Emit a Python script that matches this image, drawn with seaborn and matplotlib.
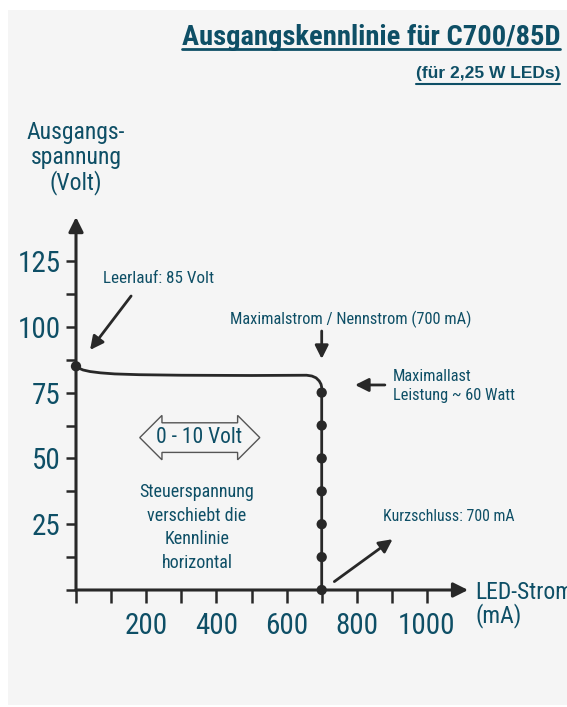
import numpy as np
import pandas as pd
import matplotlib.pyplot as plt
import seaborn as sns
from matplotlib.patches import Rectangle
from matplotlib.lines import Line2D

# Ausgangskennlinie C700/85D (Strom in mA, Spannung in V)
strom = [0, 8, 20, 40, 70, 110, 180, 300, 500, 657, 672, 684, 693, 698, 700, 700]
spannung = [85, 84.3, 83.6, 83.0, 82.5, 82.1, 81.8, 81.6, 81.5, 81.6, 81.3, 80.6, 79.4, 78.2, 77.0, 0]

# markierte Punkte auf der Kennlinie
punkt_strom = [0, 700, 700, 700, 700, 700, 700, 700]
punkt_spannung = [85, 75, 62.5, 50, 37.5, 25, 12.5, 0]

x_ticks = [0, 100, 200, 300, 400, 500, 600, 700, 800, 900, 1000]
x_labels = ["", "", "200", "", "400", "", "600", "", "800", "", "1000"]
y_ticks = [0, 12.5, 25, 37.5, 50, 62.5, 75, 87.5, 100, 112.5, 125]
y_labels = ["", "", "25", "", "50", "", "75", "", "100", "", "125"]

TEXT = "#0e4f66"
LINE = "#282828"
BG = "#f5f5f5"

sns.set_theme(style="white")
plt.rcParams["font.family"] = ["Roboto Condensed", "Archivo Narrow", "Liberation Sans", "DejaVu Sans"]

fig = plt.figure(figsize=(5.67, 7.07), dpi=100)
fig.patch.set_facecolor("white")
fig.patches.append(Rectangle((8 / 567, 2 / 707), 1 - 8 / 567, 695 / 707,
                             transform=fig.transFigure, fc=BG, ec="none", zorder=-10))

ax = fig.add_axes([0, 0, 1, 1])
ax.set_facecolor("none")
ax.set_xlim(-76 / 0.351, (567 - 76) / 0.351)
ax.set_ylim(-117 / 2.632, 590 / 2.632)

df = pd.DataFrame({"strom": strom, "spannung": spannung})
sns.lineplot(data=df, x="strom", y="spannung", sort=False, estimator=None,
             color=LINE, lw=2.0, ax=ax)
pkt = pd.DataFrame({"strom": punkt_strom, "spannung": punkt_spannung})
sns.scatterplot(data=pkt, x="strom", y="spannung", color=LINE, s=55,
                edgecolor="none", ax=ax, zorder=5)
ax.set_xlabel("")
ax.set_ylabel("")

# Achsen mit Pfeilspitzen
for s in ["top", "right"]:
    ax.spines[s].set_visible(False)
for s in ["left", "bottom"]:
    ax.spines[s].set_position(("data", 0))
    ax.spines[s].set_visible(False)
arrow_kw = dict(arrowstyle="-|>", color=LINE, lw=2.2, shrinkA=0, shrinkB=0, mutation_scale=22)
ax.annotate("", xy=(1117, 0), xytext=(0, 0), arrowprops=arrow_kw)
ax.annotate("", xy=(0, 141.7), xytext=(0, 0), arrowprops=arrow_kw)

ax.set_xticks(x_ticks)
ax.set_xticklabels(x_labels)
ax.set_yticks(y_ticks)
ax.set_yticklabels(y_labels)
ax.tick_params(axis="x", direction="out", length=9, width=1.8, color=LINE,
               labelsize=21, labelcolor=TEXT, pad=7, bottom=True)
ax.tick_params(axis="y", direction="out", length=7, width=1.8, color=LINE,
               labelsize=21, labelcolor=TEXT, pad=4, left=True)

# Achsenbeschriftungen (va="baseline" richtet an der letzten Zeile aus)
ax.text(0, 152.0, "Ausgangs-\nspannung\n(Volt)", ha="center", va="baseline",
        fontsize=17, color=TEXT, linespacing=1.1)
ax.text(1137, -12.5, "LED-Strom\n(mA)", ha="left", va="baseline",
        fontsize=17, color=TEXT, linespacing=1.0)

# Hinweise
small_arrow = dict(arrowstyle="-|>", color=LINE, lw=2.0, shrinkA=0, shrinkB=0, mutation_scale=20)
ax.text(77, 116.6, "Leerlauf: 85 Volt", fontsize=12.3, color=TEXT, va="baseline")
ax.annotate("", xy=(40, 91.2), xytext=(157, 111.7), arrowprops=small_arrow)

ax.text(439, 101.0, "Maximalstrom / Nennstrom (700 mA)", fontsize=11.8, color=TEXT, va="baseline")
ax.annotate("", xy=(700, 87.8), xytext=(700, 98.4), arrowprops=small_arrow)

ax.text(902, 79.4, "Maximallast", fontsize=11.8, color=TEXT, va="baseline")
ax.text(902, 72.2, "Leistung ~ 60 Watt", fontsize=11.8, color=TEXT, va="baseline")
ax.annotate("", xy=(795, 77.9), xytext=(880, 77.9), arrowprops=small_arrow)

ax.text(875, 26.1, "Kurzschluss: 700 mA", fontsize=11.4, color=TEXT, va="baseline")
ax.annotate("", xy=(902, 19.3), xytext=(736, 3.2), arrowprops=small_arrow)

ax.text(350, 57.9, "0 - 10 Volt", fontsize=15.5, color=TEXT, ha="center", va="center",
        bbox=dict(boxstyle="darrow,pad=0.2", fc=BG, ec="#555555", lw=1.0))
ax.text(345, 8.4, "Steuerspannung\nverschiebt die\nKennlinie\nhorizontal", fontsize=13,
        color=TEXT, ha="center", va="baseline", linespacing=1.4)

# Titel mit Unterstreichung
t1 = fig.text(560 / 567, (707 - 45) / 707, "Ausgangskennlinie für C700/85D", ha="right",
              va="baseline", fontsize=20.5, fontweight="bold", color=TEXT)
t2 = fig.text(560 / 567, (707 - 78) / 707, "(für 2,25 W LEDs)", ha="right",
              va="baseline", fontsize=12.5, fontweight="bold", color=TEXT,
              family=["Liberation Sans", "DejaVu Sans"])
fig.canvas.draw()
r = fig.canvas.get_renderer()
for t, ypx, lw in [(t1, 49, 2.0), (t2, 84, 1.5)]:
    bb = t.get_window_extent(r).transformed(fig.transFigure.inverted())
    y = (707 - ypx) / 707
    fig.add_artist(Line2D([bb.x0, bb.x1], [y, y], transform=fig.transFigure, color=TEXT, lw=lw))

fig.savefig("out.png", dpi=100, facecolor=fig.get_facecolor())
